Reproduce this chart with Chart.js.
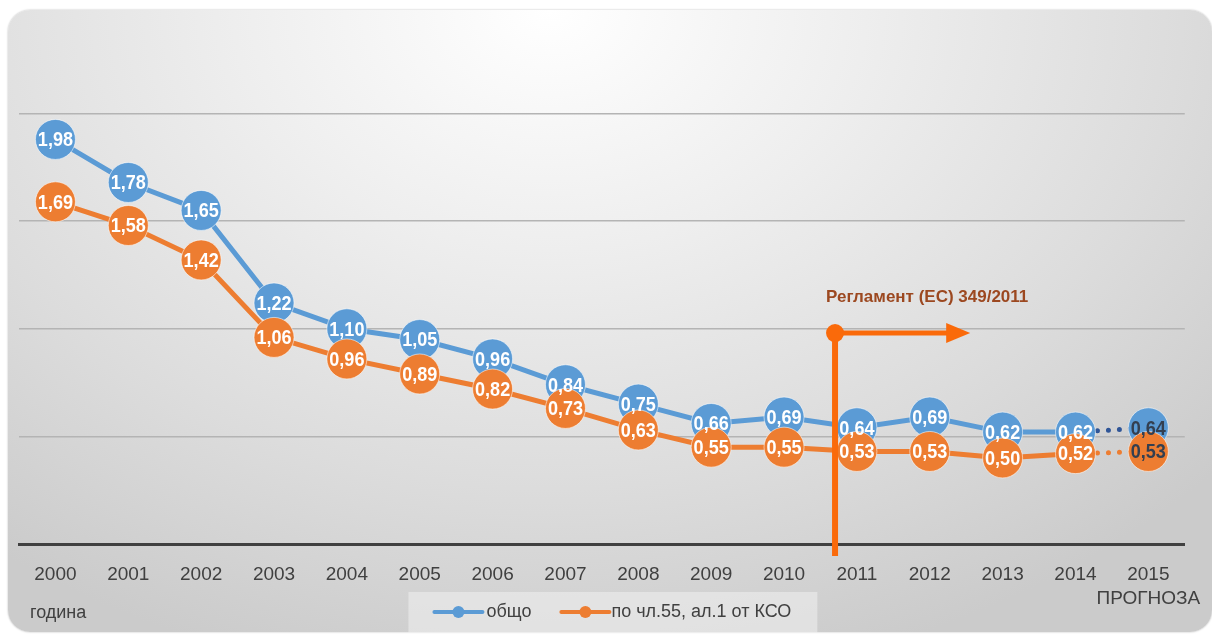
<!DOCTYPE html>
<html>
<head>
<meta charset="utf-8">
<script src="https://cdn.jsdelivr.net/npm/chart.js@4.4.1/dist/chart.umd.min.js"></script>
<style>
  html, body { margin: 0; padding: 0; background: #ffffff; overflow: hidden; }
  #card {
    position: absolute; left: 8px; top: 10px; width: 1204px; height: 622px;
    border-radius: 22px;
    background: radial-gradient(ellipse 75% 110% at 45% 0%, #ffffff 0%, #eeeeee 35%, #dcdcdc 70%, #cbcbcb 100%);
    box-shadow: 0 0 2px rgba(0,0,0,0.3);
  }
  #wrap { position: absolute; left: 0; top: 0; width: 1212px; height: 634px; }
</style>
</head>
<body>
<div id="card"></div>
<div id="wrap"><canvas id="chart" width="1212" height="634"></canvas></div>
<script>
const years = ['2000', '2001', '2002', '2003', '2004', '2005', '2006', '2007',
               '2008', '2009', '2010', '2011', '2012', '2013', '2014', ['2015', 'ПРОГНОЗА']];
const totalValues = [1.98, 1.78, 1.65, 1.22, 1.10, 1.05, 0.96, 0.84, 0.75, 0.66, 0.69, 0.64, 0.69, 0.62, 0.62, 0.64];
const art55Values = [1.69, 1.58, 1.42, 1.06, 0.96, 0.89, 0.82, 0.73, 0.63, 0.55, 0.55, 0.53, 0.53, 0.50, 0.52, 0.53];
const seriesNames = ['общо', 'по чл.55, ал.1 от КСО'];
const axisTitle = 'година';
const regulationText = 'Регламент (ЕС) 349/2011';
const regulationStart = 10.7;   // position between 2010 and 2011
const regulationLevel = 1.08;
const regulationArrowEnd = 12.5;

const blue = '#5B9BD5';
const orange = '#ED7D31';
const lastIdx = totalValues.length - 1;
const fontFamily = '"Liberation Sans", Arial, sans-serif';

function fmt(v) {
    return v.toFixed(2).replace('.', ',');
}

const pointLabels = {
    id: 'pointLabels',
    afterDatasetsDraw(chart) {
        const ctx = chart.ctx;
        [1, 0].forEach(di => {
            const meta = chart.getDatasetMeta(di);
            const values = chart.data.datasets[di].data;
            meta.data.forEach((pt, i) => {
                ctx.save();
                ctx.translate(pt.x, pt.y + 1);
                ctx.scale(0.86, 1);
                ctx.font = 'bold 21px ' + fontFamily;
                ctx.textAlign = 'center';
                ctx.textBaseline = 'middle';
                ctx.fillStyle = i === lastIdx ? '#333f50' : '#ffffff';
                ctx.fillText(fmt(values[i]), 0, 0);
                ctx.restore();
            });
        });
    }
};

const regulation = {
    id: 'regulation',
    afterDatasetsDraw(chart) {
        const ctx = chart.ctx;
        const x = chart.scales.x;
        const y = chart.scales.y;
        const x0 = x.getPixelForValue(regulationStart);
        const y0 = y.getPixelForValue(regulationLevel);
        const x1 = x.getPixelForValue(regulationArrowEnd);
        const col = '#FA6A0A';
        ctx.save();
        ctx.strokeStyle = col;
        ctx.fillStyle = col;
        ctx.lineWidth = 6;
        ctx.beginPath();
        ctx.moveTo(x0, y0);
        ctx.lineTo(x0, chart.chartArea.bottom + 12);
        ctx.stroke();
        ctx.lineWidth = 5;
        ctx.beginPath();
        ctx.moveTo(x0, y0);
        ctx.lineTo(x1 - 18, y0);
        ctx.stroke();
        ctx.beginPath();
        ctx.moveTo(x1 - 20, y0 - 10);
        ctx.lineTo(x1 + 4, y0);
        ctx.lineTo(x1 - 20, y0 + 10);
        ctx.closePath();
        ctx.fill();
        ctx.beginPath();
        ctx.arc(x0, y0, 9, 0, Math.PI * 2);
        ctx.fill();
        ctx.font = 'bold 17px ' + fontFamily;
        ctx.fillStyle = '#9C4820';
        ctx.textAlign = 'left';
        ctx.textBaseline = 'middle';
        ctx.fillText(regulationText, x0 - 9, y0 - 36);
        ctx.restore();
    }
};

const extras = {
    id: 'extras',
    afterDraw(chart) {
        const ctx = chart.ctx;
        const area = chart.chartArea;
        ctx.save();
        ctx.font = '18px ' + fontFamily;
        ctx.fillStyle = '#404040';
        ctx.textBaseline = 'middle';
        ctx.textAlign = 'left';
        ctx.fillText(axisTitle, 30, 613);

        // legend
        const lineW = 48;
        const w1 = ctx.measureText(seriesNames[0]).width;
        const w2 = ctx.measureText(seriesNames[1]).width;
        const total = lineW + 4 + w1 + 30 + lineW + 2 + w2;
        const cx = (area.left + area.right) / 2 + 11;
        const lx = cx - total / 2;
        const ly = 612;
        ctx.fillStyle = 'rgba(240,240,240,0.55)';
        ctx.fillRect(lx - 26, 592, total + 52, 41);
        const items = [[blue, seriesNames[0], w1], [orange, seriesNames[1], w2]];
        let px = lx;
        items.forEach(([c, name, w], k) => {
            ctx.strokeStyle = c;
            ctx.fillStyle = c;
            ctx.lineWidth = 4;
            ctx.lineCap = 'round';
            ctx.beginPath();
            ctx.moveTo(px, ly);
            ctx.lineTo(px + lineW, ly);
            ctx.stroke();
            ctx.beginPath();
            ctx.arc(px + lineW / 2, ly, 6, 0, Math.PI * 2);
            ctx.fill();
            ctx.fillStyle = '#404040';
            ctx.fillText(name, px + lineW + (k === 0 ? 4 : 2), ly);
            px += lineW + 4 + w + 30;
        });
        ctx.restore();
    }
};

const ctx = document.getElementById('chart').getContext('2d');
new Chart(ctx, {
    type: 'line',
    data: {
        labels: years,
        datasets: [{
            label: seriesNames[0],
            data: totalValues,
            borderColor: blue,
            backgroundColor: blue,
            borderWidth: 5,
            borderCapStyle: 'round',
            pointRadius: 20,
            pointBackgroundColor: blue,
            pointBorderColor: 'rgba(255,255,255,0.55)',
            pointBorderWidth: 1,
            order: 2,
            segment: {
                borderDash: c => c.p1DataIndex === lastIdx ? [0, 11] : undefined,
                borderColor: c => c.p1DataIndex === lastIdx ? '#2F5597' : undefined
            }
        }, {
            label: seriesNames[1],
            data: art55Values,
            borderColor: orange,
            backgroundColor: orange,
            borderWidth: 5,
            borderCapStyle: 'round',
            pointRadius: 20,
            pointBackgroundColor: orange,
            pointBorderColor: 'rgba(255,255,255,0.55)',
            pointBorderWidth: 1,
            order: 1,
            segment: {
                borderDash: c => c.p1DataIndex === lastIdx ? [0, 11] : undefined
            }
        }]
    },
    options: {
        responsive: false,
        animation: false,
        events: [],
        layout: { autoPadding: false, padding: { left: 19, right: 27, top: 6, bottom: 0 } },
        plugins: {
            legend: { display: false },
            tooltip: { enabled: false }
        },
        scales: {
            x: {
                offset: true,
                grid: { display: false },
                border: { display: true, color: '#404040', width: 3 },
                ticks: {
                    color: '#404040',
                    padding: 11,
                    maxRotation: 0,
                    autoSkip: false,
                    font: { family: fontFamily, size: 19, lineHeight: 1.25 }
                },
                afterFit: scale => { scale.height = 90; }
            },
            y: {
                min: 0.1,
                max: 2.6,
                ticks: { display: false, stepSize: 0.5 },
                border: { display: false },
                grid: {
                    drawTicks: false,
                    lineWidth: 1.5,
                    color: c => (c.index === 0 || c.tick.value > 2.5) ? 'rgba(0,0,0,0)' : '#b4b4b4'
                }
            }
        }
    },
    plugins: [regulation, pointLabels, extras]
});
</script>
</body>
</html>
